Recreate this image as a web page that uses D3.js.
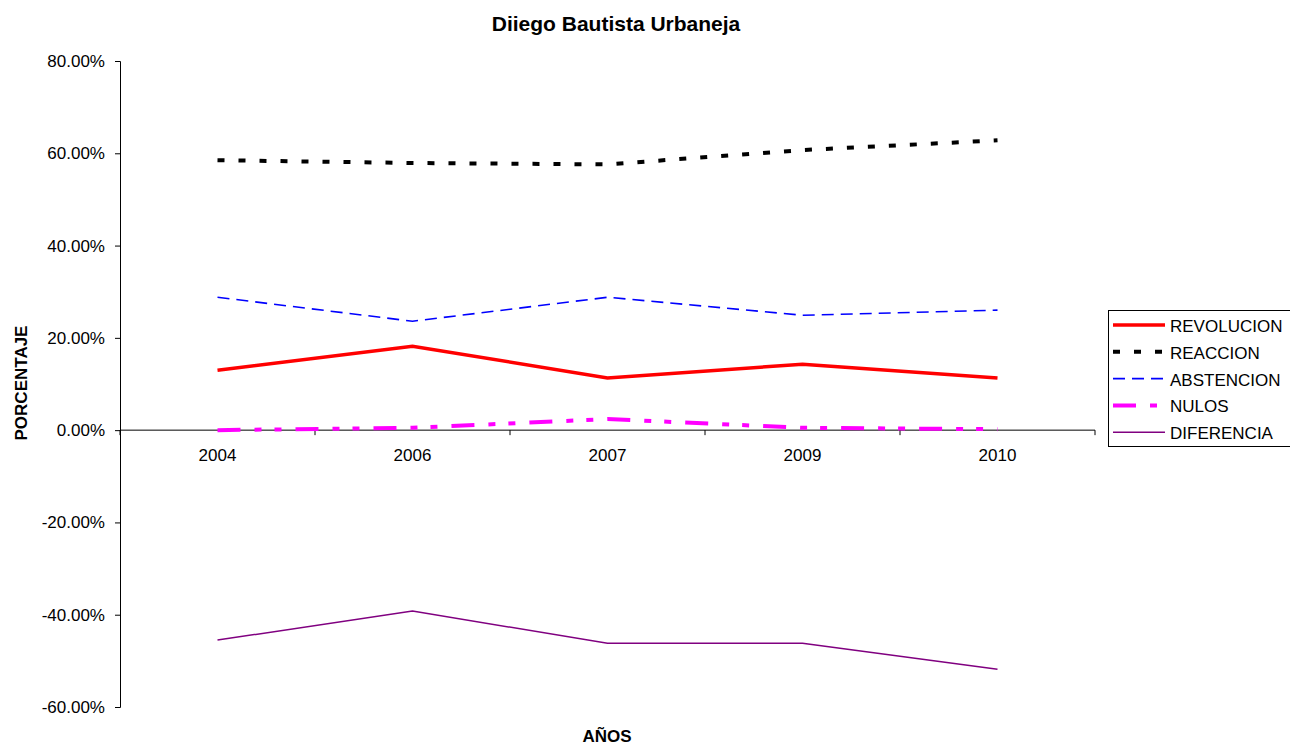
<!DOCTYPE html>
<html>
<head>
<meta charset="utf-8">
<script src="https://cdn.jsdelivr.net/npm/d3@7"></script>
<style>
  body { margin: 0; background: #fff; }
  text { font-family: "Liberation Sans", Arial, sans-serif; }
</style>
</head>
<body>
<svg id="chart" width="1290" height="746"></svg>
<script>
// data
var years = ['2004', '2006', '2007', '2009', '2010'];
var revolucion = [0.130, 0.182, 0.113, 0.143, 0.113];
var reaccion = [0.585, 0.579, 0.576, 0.607, 0.628];
var abstencion = [0.288, 0.236, 0.288, 0.249, 0.260];
var nulos = [0.000, 0.005, 0.024, 0.005, 0.002];
var diferencia = [-0.455, -0.392, -0.462, -0.462, -0.518];
var yTicks = [0.8, 0.6, 0.4, 0.2, 0, -0.2, -0.4, -0.6];

var series = [
  {name: 'REVOLUCION', values: revolucion, color: '#ff0000', width: 3.5, dash: null},
  {name: 'REACCION', values: reaccion, color: '#000000', width: 4, dash: '7,14'},
  {name: 'ABSTENCION', values: abstencion, color: '#0000ff', width: 1.6, dash: '12,7'},
  {name: 'NULOS', values: nulos, color: '#ff00ff', width: 4, dash: '23,14,7,13,7,14'},
  {name: 'DIFERENCIA', values: diferencia, color: '#800080', width: 1.5, dash: null}
];

var svg = d3.select('#chart');
var plotLeft = 120, plotRight = 1095, plotTop = 61, plotBottom = 707;

var x = d3.scaleBand().domain(years).range([plotLeft, plotRight]);
var y = d3.scaleLinear().domain([-0.6, 0.8]).range([plotBottom, plotTop]);

// y axis
svg.append('g')
  .attr('transform', 'translate(' + plotLeft + ',0)')
  .call(d3.axisLeft(y).tickValues(yTicks).tickSize(5).tickPadding(10)
    .tickFormat(function(d) { return (d * 100).toFixed(2) + '%'; }))
  .call(function(g) {
    g.select('.domain').attr('stroke', '#000');
    g.selectAll('text').style('font-size', '17px').attr('fill', '#000');
  });

// x axis at zero
var xg = svg.append('g').attr('transform', 'translate(0,' + y(0) + ')');
xg.append('line')
  .attr('x1', plotLeft).attr('x2', plotRight)
  .attr('stroke', '#000').attr('stroke-width', 1);
xg.selectAll('line.tick')
  .data(years.concat(['end']))
  .enter().append('line')
  .attr('class', 'tick')
  .attr('x1', function(d, i) { return plotLeft + i * x.bandwidth(); })
  .attr('x2', function(d, i) { return plotLeft + i * x.bandwidth(); })
  .attr('y1', 0).attr('y2', 5)
  .attr('stroke', '#000');
xg.selectAll('text')
  .data(years)
  .enter().append('text')
  .attr('x', function(d) { return x(d) + x.bandwidth() / 2; })
  .attr('y', 31)
  .attr('text-anchor', 'middle')
  .style('font-size', '17px')
  .text(function(d) { return d; });

// lines
var line = d3.line()
  .x(function(d, i) { return x(years[i]) + x.bandwidth() / 2; })
  .y(function(d) { return y(d); });

series.forEach(function(s) {
  svg.append('path')
    .datum(s.values)
    .attr('d', line)
    .attr('fill', 'none')
    .attr('stroke', s.color)
    .attr('stroke-width', s.width)
    .attr('stroke-dasharray', s.dash);
});

// titles
svg.append('text')
  .attr('x', 616).attr('y', 31)
  .attr('text-anchor', 'middle')
  .style('font-size', '21px').style('font-weight', 'bold')
  .text('Diiego Bautista Urbaneja');

svg.append('text')
  .attr('x', 607).attr('y', 742)
  .attr('text-anchor', 'middle')
  .style('font-size', '17px').style('font-weight', 'bold')
  .text('AÑOS');

svg.append('text')
  .attr('transform', 'translate(27,383) rotate(-90)')
  .attr('text-anchor', 'middle')
  .style('font-size', '17px').style('font-weight', 'bold')
  .text('PORCENTAJE');

// legend
var lg = svg.append('g').attr('transform', 'translate(1108,310)');
lg.append('rect')
  .attr('x', 0.5).attr('y', 0.5)
  .attr('width', 190).attr('height', 136)
  .attr('fill', '#fff').attr('stroke', '#000');
var item = lg.selectAll('g.item')
  .data(series)
  .enter().append('g')
  .attr('transform', function(d, i) { return 'translate(0,' + (15 + i * 26.8) + ')'; });
item.append('line')
  .attr('x1', 5).attr('x2', 57)
  .attr('stroke', function(d) { return d.color; })
  .attr('stroke-width', function(d) { return d.width; })
  .attr('stroke-dasharray', function(d) { return d.dash ? (d.name === 'NULOS' ? '23,14,7,14' : d.dash) : null; });
item.append('text')
  .attr('x', 62).attr('y', 7)
  .style('font-size', '17px')
  .text(function(d) { return d.name; });
</script>
</body>
</html>
